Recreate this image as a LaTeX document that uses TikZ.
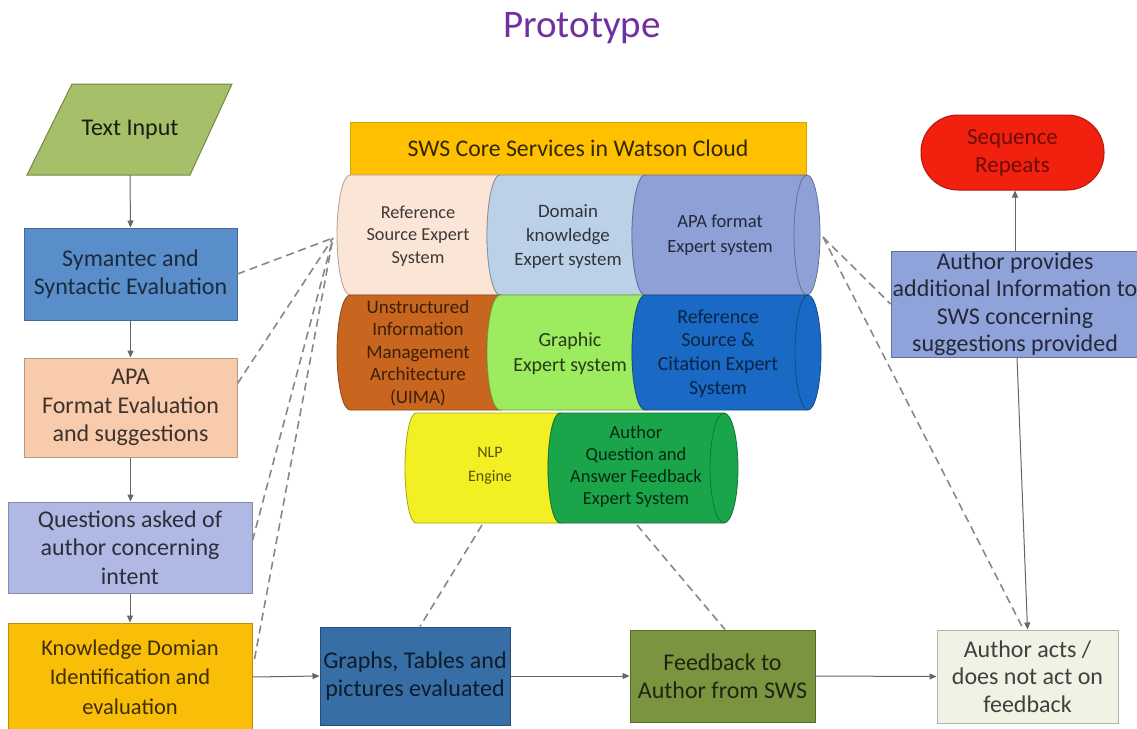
\documentclass[tikz,border=0pt]{standalone}
\usepackage{fontspec}
\setmainfont{Carlito}
\usetikzlibrary{arrows.meta}

% fills
\definecolor{cTin}{HTML}{A6C06A}
\definecolor{cSym}{HTML}{5A8ECB}
\definecolor{cApa}{HTML}{F8CBAD}
\definecolor{cQue}{HTML}{AFB9E3}
\definecolor{cKno}{HTML}{F9BE08}
\definecolor{cGra}{HTML}{386EA6}
\definecolor{cFee}{HTML}{7A9440}
\definecolor{cAct}{HTML}{EEF3E3}
\definecolor{cSeq}{HTML}{F2200E}
\definecolor{cPro}{HTML}{8FA2DA}
\definecolor{cHdr}{HTML}{FFC000}
\definecolor{cRef}{HTML}{FBE5D6}
\definecolor{cDom}{HTML}{BCD0E8}
\definecolor{cApf}{HTML}{8EA0D6}
\definecolor{cUim}{HTML}{C8661F}
\definecolor{cGrx}{HTML}{9DEB5E}
\definecolor{cCit}{HTML}{1A69C4}
\definecolor{cNlp}{HTML}{F2EF22}
\definecolor{cAqa}{HTML}{1AA54B}
\definecolor{cTitle}{HTML}{7030A0}
\definecolor{cLine}{HTML}{666666}
\definecolor{cDash}{HTML}{888888}

\begin{document}
\begin{tikzpicture}[x=1pt,y=-1pt,
  flowbox/.style={draw, line width=1pt, align=center, inner sep=0pt,
    font=\fontsize{24}{28.5}\selectfont},
  segtext/.style={align=center, inner sep=0pt},
  seg/.style={draw=#1!70!black, line width=0.8pt},
  flow/.style={draw=cLine, line width=1pt, -{Triangle[length=7pt,width=6pt]}},
  link/.style={draw=cDash, line width=1.6pt, dash pattern=on 8pt off 5pt},
]
\useasboundingbox (0,0) rectangle (1137,728);
\fill[white] (0,0) rectangle (1137,728);

% title
\node[text=cTitle, font=\fontsize{39}{44}\selectfont] (title) at (582,28) {Prototype};

% ---------- left column ----------
\path[fill=cTin, draw=cTin!70!black, line width=1pt] (27,175) -- (72,84) -- (232,84) -- (190,175) -- cycle;
\node[segtext, minimum width=160pt, minimum height=91pt, text=black!85!cTin,
  font=\fontsize{24}{28}\selectfont] (tin) at (130,129.5) {Text Input};

\node[flowbox, fill=cSym, draw=cSym!75!black, text=cSym!30!black,
  minimum width=213pt, minimum height=92pt] (sym) at (130.5,274) {Symantec and\\Syntactic Evaluation};
\node[flowbox, fill=cApa, draw=cApa!75!black, text=cApa!25!black,
  minimum width=213pt, minimum height=99pt] (apa) at (130.5,407.5) {APA\\Format Evaluation\\and suggestions};
\node[flowbox, fill=cQue, draw=cQue!75!black, text=cQue!25!black,
  minimum width=244pt, minimum height=91pt] (que) at (130,547.5) {Questions asked of\\author concerning\\intent};
\node[flowbox, fill=cKno, draw=cKno!75!black, text=cKno!25!black,
  font=\fontsize{22.5}{29.5}\selectfont,
  minimum width=244pt, minimum height=108pt] (kno) at (130,677) {Knowledge Domian\\Identification and\\evaluation};

% ---------- bottom row ----------
\node[flowbox, fill=cGra, draw=cGra!70!black, text=cGra!25!black,
  minimum width=190pt, minimum height=98pt] (gra) at (415,676) {Graphs, Tables and\\pictures evaluated};
\node[flowbox, fill=cFee, draw=cFee!70!black, text=cFee!25!black,
  minimum width=185pt, minimum height=92pt] (fee) at (722.5,676) {Feedback to\\Author from SWS};
\node[flowbox, fill=cAct, draw=black!30, text=black!75,
  font=\fontsize{24}{27.5}\selectfont,
  minimum width=181pt, minimum height=93pt] (act) at (1027.5,676.5) {Author acts /\\does not act on\\feedback};

% ---------- right column ----------
\node[flowbox, fill=cSeq, draw=cSeq!75!black, text=cSeq!45!black, rounded corners=37pt,
  font=\fontsize{23}{28}\selectfont,
  minimum width=183pt, minimum height=75pt] (seq) at (1012.5,152.5) {Sequence\\Repeats};
\node[flowbox, fill=cPro, draw=cPro!70!black, text=cPro!25!black,
  font=\fontsize{24}{27.5}\selectfont,
  minimum width=248pt, minimum height=106pt] (pro) at (1015,304) {Author provides\\additional Information to\\SWS concerning\\suggestions provided};

% ---------- SWS core services ----------
\node[fill=cHdr, draw=cHdr!85!black, line width=0.8pt, minimum width=456pt, minimum height=53pt,
  inner sep=0pt, text=cHdr!20!black, font=\fontsize{23.8}{28}\selectfont] (hdr) at (578,148.5)
  {SWS Core Services in Watson Cloud};

% row 1
\path[fill=cRef, seg=cRef] (350,175) -- (500,175) arc[start angle=90,end angle=270,x radius=13pt,y radius=60pt]
  -- (350,295) arc[start angle=270,end angle=90,x radius=13pt,y radius=60pt] -- cycle;
\path[fill=cDom, seg=cDom] (500,175) -- (645,175) arc[start angle=90,end angle=270,x radius=13pt,y radius=60pt]
  -- (500,295) arc[start angle=270,end angle=90,x radius=13pt,y radius=60pt] -- cycle;
\path[fill=cApf, seg=cApf] (645,175) -- (807,175) arc[start angle=90,end angle=-90,x radius=13pt,y radius=60pt]
  -- (645,295) arc[start angle=270,end angle=90,x radius=13pt,y radius=60pt] -- cycle;
\draw[seg=cApf] (807,175) arc[start angle=90,end angle=270,x radius=13pt,y radius=60pt];

\node[segtext, text=cRef!25!black, font=\fontsize{18.3}{22.5}\selectfont] (ref) at (418,236) {Reference\\Source Expert\\System};
\node[segtext, text=cDom!25!black, font=\fontsize{18.9}{24}\selectfont] (dom) at (568,237) {Domain\\knowledge\\Expert system};
\node[segtext, text=cApf!25!black, font=\fontsize{18.6}{25}\selectfont] (apf) at (720,235.5) {APA format\\Expert system};

% row 2
\path[fill=cUim, seg=cUim] (350,295) -- (500,295) arc[start angle=90,end angle=270,x radius=13pt,y radius=57.5pt]
  -- (350,410) arc[start angle=270,end angle=90,x radius=13pt,y radius=57.5pt] -- cycle;
\path[fill=cGrx, seg=cGrx] (500,295) -- (645,295) arc[start angle=90,end angle=270,x radius=13pt,y radius=57.5pt]
  -- (500,410) arc[start angle=270,end angle=90,x radius=13pt,y radius=57.5pt] -- cycle;
\path[fill=cCit, seg=cCit] (645,295) -- (808,295) arc[start angle=90,end angle=-90,x radius=13pt,y radius=57.5pt]
  -- (645,410) arc[start angle=270,end angle=90,x radius=13pt,y radius=57.5pt] -- cycle;
\draw[seg=cCit] (808,295) arc[start angle=90,end angle=270,x radius=13pt,y radius=57.5pt];

\node[segtext, text=cUim!30!black, font=\fontsize{19}{22.5}\selectfont] (uim) at (418,353) {Unstructured\\Information\\Management\\Architecture\\(UIMA)};
\node[segtext, text=cGrx!25!black, font=\fontsize{20}{25}\selectfont] (grx) at (570,353.5) {Graphic\\Expert system};
\node[segtext, text=cCit!35!black, font=\fontsize{20}{23.7}\selectfont] (cit) at (718,353.5) {Reference\\Source \&\\Citation Expert\\System};

% row 3
\path[fill=cNlp, seg=cNlp] (416,413) -- (560,413) arc[start angle=90,end angle=270,x radius=12pt,y radius=55pt]
  -- (416,523) arc[start angle=270,end angle=90,x radius=11pt,y radius=55pt] -- cycle;
\path[fill=cAqa, seg=cAqa] (560,413) -- (724,413) arc[start angle=90,end angle=-90,x radius=14pt,y radius=55pt]
  -- (560,523) arc[start angle=270,end angle=90,x radius=12pt,y radius=55pt] -- cycle;
\draw[seg=cAqa] (724,413) arc[start angle=90,end angle=270,x radius=14pt,y radius=55pt];

\node[segtext, text=cNlp!35!black, font=\fontsize{16}{24}\selectfont] (nlp) at (490,466) {NLP\\Engine};
\node[segtext, text=cAqa!25!black, font=\fontsize{18.5}{22}\selectfont] (aqa) at (636,467) {Author\\Question and\\Answer Feedback\\Expert System};

% hubs where the dashed links meet the core services
\coordinate (hubL) at (333,238);
\coordinate (hubR) at (823,237);
\coordinate (nlpB) at (482,525);
\coordinate (aqaB) at (637,525);

% ---------- main flow ----------
\draw[flow] (tin.south) -- (sym.north);
\draw[flow] (sym.south) -- (apa.north);
\draw[flow] (apa.south) -- (apa.south |- que.north);
\draw[flow] (que.south) -- (kno.north);
\draw[flow] (kno.east) -- (gra.west);
\draw[flow] (gra.east) -- (fee.west);
\draw[flow] (fee.east) -- (act.west);
\draw[flow] (pro.north) -- (pro.north |- seq.south);
\draw[flow] ([xshift=2pt]pro.south) -- (act.north);

% ---------- links to the core services ----------
\draw[link] (sym.east) -- (hubL);
\draw[link] ([yshift=24pt]apa.east) -- (hubL);
\draw[link] ([yshift=7pt]que.east) -- (hubL);
\draw[link] ([yshift=18pt,xshift=2pt]kno.east) -- (hubL);
\draw[link] (hubR) -- (pro.west);
\draw[link] (hubR) -- ([xshift=-4pt]act.north);
\draw[link] (nlpB) -- ([xshift=5pt]gra.north);
\draw[link] (aqaB) -- ([xshift=2.5pt]fee.north);

\end{tikzpicture}
\end{document}
